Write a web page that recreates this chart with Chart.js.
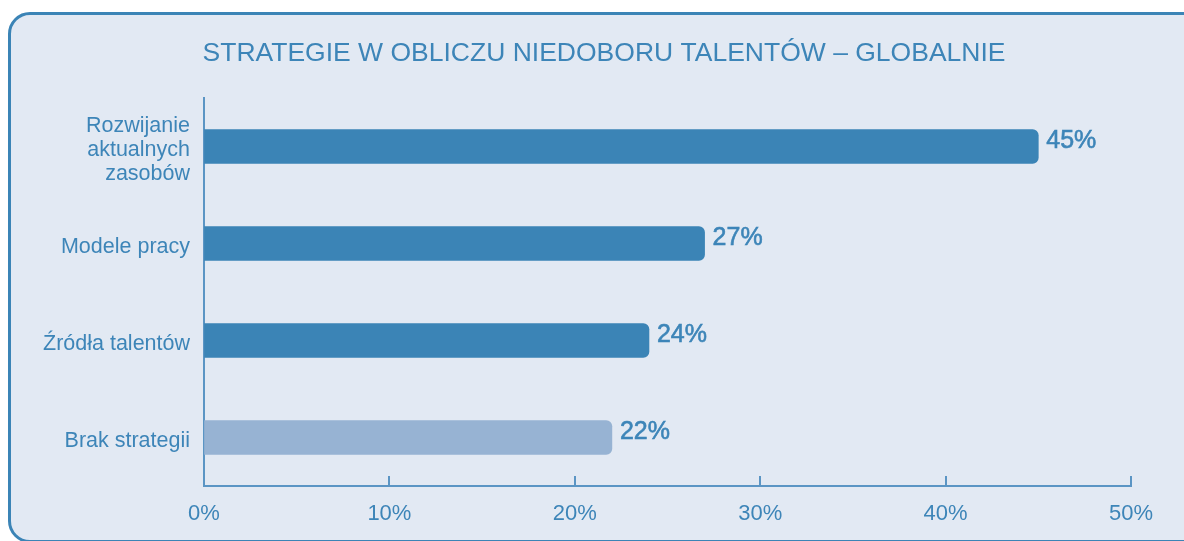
<!DOCTYPE html>
<html>
<head>
<meta charset="utf-8">
<script src="https://cdn.jsdelivr.net/npm/chart.js@4.4.1/dist/chart.umd.min.js"></script>
<style>
  html, body { margin: 0; padding: 0; background: #ffffff; overflow: hidden; }
  #wrap { position: relative; width: 1184px; height: 541px; }
  #card { position: absolute; left: 8px; top: 12px; width: 1220px; height: 531px;
          box-sizing: border-box; border: 3px solid #3b84b6; border-radius: 22px; background: #e2e9f3; }
  #c { position: absolute; left: 0; top: 0; }
</style>
</head>
<body>
<div id="wrap">
  <div id="card"></div>
  <canvas id="c" width="1184" height="541"></canvas>
</div>
<script>
const titleText = 'STRATEGIE W OBLICZU NIEDOBORU TALENTÓW – GLOBALNIE';
const categories = [['Rozwijanie', 'aktualnych', 'zasobów'], 'Modele pracy', 'Źródła talentów', 'Brak strategii'];
const values = [45, 27, 24, 22];
const barColors = ['#3b84b6', '#3b84b6', '#3b84b6', '#97b3d3'];
const tickValues = [0, 10, 20, 30, 40, 50];

const TXT = '#3d85b8';
const AXIS = '#5b95c4';
const FONT = '"Liberation Sans", Arial, Helvetica, sans-serif';

const titlePlugin = {
  id: 'cardTitle',
  afterDraw(chart) {
    const ctx = chart.ctx;
    ctx.save();
    ctx.fillStyle = TXT;
    ctx.font = '26.5px ' + FONT;
    ctx.textAlign = 'center';
    ctx.textBaseline = 'middle';
    ctx.fillText(titleText, 604, 54);
    ctx.restore();
  }
};

const innerTicks = {
  id: 'innerTicks',
  afterDraw(chart) {
    const x = chart.scales.x;
    const ctx = chart.ctx;
    const y0 = chart.chartArea.bottom;
    ctx.save();
    ctx.strokeStyle = AXIS;
    ctx.lineWidth = 2;
    tickValues.forEach(v => {
      if (v === 0) return;
      const px = Math.round(x.getPixelForValue(v));
      ctx.beginPath();
      ctx.moveTo(px, y0);
      ctx.lineTo(px, y0 - 10);
      ctx.stroke();
    });
    ctx.restore();
  }
};

const valueLabels = {
  id: 'valueLabels',
  afterDatasetsDraw(chart) {
    const ctx = chart.ctx;
    const meta = chart.getDatasetMeta(0);
    ctx.save();
    ctx.fillStyle = TXT;
    ctx.strokeStyle = TXT;
    ctx.lineWidth = 0.6;
    ctx.font = '25px ' + FONT;
    ctx.textAlign = 'left';
    ctx.textBaseline = 'middle';
    meta.data.forEach((bar, i) => {
      const t = values[i] + '%';
      ctx.fillText(t, bar.x + 8, bar.y - 5);
      ctx.strokeText(t, bar.x + 8, bar.y - 5);
    });
    ctx.restore();
  }
};

new Chart(document.getElementById('c'), {
  type: 'bar',
  data: {
    labels: categories,
    datasets: [{
      data: values,
      backgroundColor: barColors,
      borderWidth: 0,
      borderRadius: 6,
      borderSkipped: 'start',
      barThickness: 34
    }]
  },
  plugins: [titlePlugin, innerTicks, valueLabels],
  options: {
    indexAxis: 'y',
    responsive: false,
    animation: false,
    devicePixelRatio: 1,
    layout: { padding: { left: 0, right: 53, top: 98, bottom: 14.6 } },
    plugins: {
      legend: { display: false },
      tooltip: { enabled: false },
      title: { display: false }
    },
    scales: {
      x: {
        min: 0, max: 50,
        afterBuildTicks(scale) { scale.ticks = tickValues.map(v => ({ value: v })); },
        afterFit(scale) { scale.height = 40.4; scale.paddingLeft = 0; scale.paddingRight = 0; },
        grid: { display: true, drawOnChartArea: false, drawTicks: false, color: 'rgba(0,0,0,0)' },
        border: { display: true, color: AXIS, width: 2 },
        ticks: {
          color: TXT,
          padding: 15,
          font: { family: FONT, size: 22 },
          callback: v => v + '%'
        }
      },
      y: {
        afterFit(scale) { scale.width = 204; scale.paddingTop = 0; scale.paddingBottom = 0; },
        grid: { display: true, drawOnChartArea: false, drawTicks: false, color: 'rgba(0,0,0,0)' },
        border: { display: true, color: AXIS, width: 2 },
        ticks: {
          color: TXT,
          padding: 14,
          labelOffset: 4,
          font: { family: FONT, size: 21.5, lineHeight: 1.116 }
        }
      }
    }
  }
});
</script>
</body>
</html>
